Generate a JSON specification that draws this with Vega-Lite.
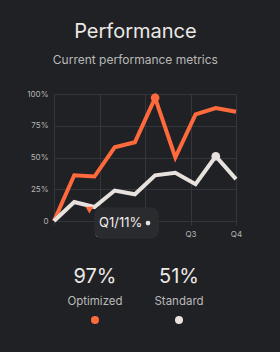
{
  "$schema": "https://vega.github.io/schema/vega-lite/v6.json",
  "background": "#202124",
  "padding": {"left": 26, "top": 21, "right": 36, "bottom": 26},
  "datasets": {
    "perf": [
      {"idx": 0, "series": "Optimized", "value": 0},
      {"idx": 1, "series": "Optimized", "value": 36},
      {"idx": 2, "series": "Optimized", "value": 35},
      {"idx": 3, "series": "Optimized", "value": 58},
      {"idx": 4, "series": "Optimized", "value": 62},
      {"idx": 5, "series": "Optimized", "value": 97},
      {"idx": 6, "series": "Optimized", "value": 50},
      {"idx": 7, "series": "Optimized", "value": 84},
      {"idx": 8, "series": "Optimized", "value": 89},
      {"idx": 9, "series": "Optimized", "value": 86},
      {"idx": 0, "series": "Standard", "value": 0},
      {"idx": 1, "series": "Standard", "value": 15},
      {"idx": 2, "series": "Standard", "value": 11},
      {"idx": 3, "series": "Standard", "value": 24},
      {"idx": 4, "series": "Standard", "value": 21},
      {"idx": 5, "series": "Standard", "value": 36},
      {"idx": 6, "series": "Standard", "value": 38},
      {"idx": 7, "series": "Standard", "value": 29},
      {"idx": 8, "series": "Standard", "value": 51},
      {"idx": 9, "series": "Standard", "value": 33}
    ]
  },
  "title": {
    "text": "Performance",
    "subtitle": "Current performance metrics",
    "anchor": "middle",
    "font": "Inter",
    "fontSize": 20,
    "fontWeight": 400,
    "color": "#ece8e4",
    "subtitleFont": "Inter",
    "subtitleFontSize": 12,
    "subtitleColor": "#b9b9b9",
    "subtitlePadding": 13,
    "offset": 24
  },
  "spacing": 24,
  "vconcat": [
    {
      "width": 182,
      "height": 127,
      "data": {"name": "perf"},
      "resolve": {"axis": {"x": "independent", "y": "independent"}},
      "layer": [
        {
          "mark": {"type": "line", "strokeWidth": 4},
          "encoding": {
            "x": {
              "field": "idx",
              "type": "quantitative",
              "scale": {"domain": [0, 9], "nice": false},
              "axis": {
                "values": [0, 2.25, 4.5, 6.75, 9],
                "labelExpr": "datum.value == 0 ? '' : 'Q' + round(datum.value / 2.25)",
                "labelOverlap": false,
                "labelFlush": false,
                "title": null
              }
            },
            "y": {
              "field": "value",
              "type": "quantitative",
              "scale": {"domain": [0, 100], "nice": false},
              "axis": {
                "values": [0, 25, 50, 75, 100],
                "labelExpr": "datum.value == 0 ? '0' : datum.value + '%'",
                "labelOverlap": false,
                "labelFlush": false,
                "labelSeparation": 0,
                "title": null
              }
            },
            "color": {
              "field": "series",
              "type": "nominal",
              "scale": {"domain": ["Optimized", "Standard"], "range": ["#ff6a3d", "#e8e2de"]},
              "legend": null
            }
          }
        },
        {
          "transform": [
            {"joinaggregate": [{"op": "max", "field": "value", "as": "peak"}], "groupby": ["series"]},
            {"filter": "datum.value == datum.peak"}
          ],
          "mark": {"type": "circle", "size": 75, "opacity": 1},
          "encoding": {
            "x": {"field": "idx", "type": "quantitative", "axis": null},
            "y": {"field": "value", "type": "quantitative", "axis": null},
            "color": {"field": "series", "type": "nominal", "legend": null}
          }
        },
        {
          "data": {"values": [{}]},
          "mark": {"type": "point", "shape": "triangle-down", "filled": true, "size": 60, "color": "#ff6a3d", "opacity": 1},
          "encoding": {
            "x": {"datum": 1.75, "type": "quantitative", "axis": null},
            "y": {"datum": 8.5, "type": "quantitative", "axis": null}
          }
        },
        {
          "data": {"values": [{}]},
          "mark": {"type": "rect", "fill": "#2a2b2f", "cornerRadius": 7, "stroke": "#2e2f33", "strokeWidth": 1},
          "encoding": {
            "x": {"datum": 2.03, "type": "quantitative", "axis": null},
            "x2": {"datum": 5.15},
            "y": {"datum": 10.2, "type": "quantitative", "axis": null},
            "y2": {"datum": -13.4}
          }
        },
        {
          "data": {"values": [{}]},
          "mark": {"type": "text", "text": "Q1/11%", "font": "Inter", "fontSize": 13, "color": "#f2efec", "baseline": "middle", "align": "center"},
          "encoding": {
            "x": {"datum": 3.3, "type": "quantitative", "axis": null},
            "y": {"datum": -1.6, "type": "quantitative", "axis": null}
          }
        },
        {
          "data": {"values": [{}]},
          "mark": {"type": "circle", "size": 22, "color": "#e8e2de", "opacity": 1},
          "encoding": {
            "x": {"datum": 4.65, "type": "quantitative", "axis": null},
            "y": {"datum": -1.6, "type": "quantitative", "axis": null}
          }
        }
      ]
    },
    {
      "width": 166,
      "height": 64,
      "data": {"name": "perf"},
      "transform": [
        {"aggregate": [{"op": "max", "field": "value", "as": "peak"}], "groupby": ["series"]},
        {"calculate": "datum.peak + '%'", "as": "peakLabel"}
      ],
      "encoding": {
        "x": {
          "field": "series",
          "type": "nominal",
          "scale": {"type": "point", "padding": 0.488},
          "axis": null
        }
      },
      "layer": [
        {
          "mark": {"type": "text", "font": "Inter", "fontSize": 20, "color": "#ece8e4", "baseline": "middle"},
          "encoding": {
            "y": {"datum": 14, "type": "quantitative", "scale": {"domain": [0, 64], "reverse": true, "nice": false}, "axis": null},
            "text": {"field": "peakLabel"}
          }
        },
        {
          "mark": {"type": "text", "font": "Inter", "fontSize": 11.5, "color": "#b9b9b9", "baseline": "middle"},
          "encoding": {
            "y": {"datum": 39, "type": "quantitative"},
            "text": {"field": "series"}
          }
        },
        {
          "mark": {"type": "circle", "size": 64, "opacity": 1},
          "encoding": {
            "y": {"datum": 57, "type": "quantitative"},
            "color": {"field": "series", "type": "nominal", "legend": null}
          }
        }
      ]
    }
  ],
  "config": {
    "view": {"stroke": null},
    "axis": {
      "domain": false,
      "labelFont": "Inter",
      "labelFontSize": 8,
      "labelColor": "#b5b5b5",
      "labelOverlap": false,
      "labelFlush": false,
      "gridColor": "#34363b",
      "gridWidth": 1,
      "tickColor": "#34363b",
      "tickSize": 4
    },
    "axisY": {"ticks": false, "labelPadding": 6},
    "axisX": {"ticks": true, "labelPadding": 5}
  }
}
